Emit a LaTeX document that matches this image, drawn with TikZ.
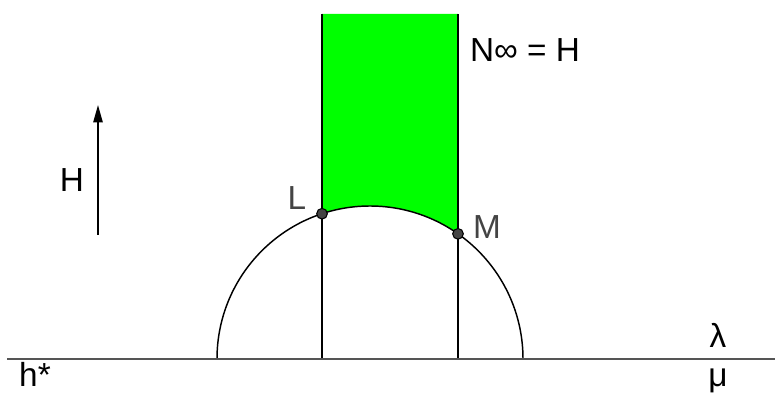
\documentclass[tikz,border=0pt]{standalone}
\usepackage{fontspec}
\setmainfont{Liberation Sans}
\usepackage{tikz}
\usetikzlibrary{arrows.meta,calc}
\definecolor{BandGreen}{HTML}{00FF00}
\definecolor{AxisGrey}{HTML}{555555}
\definecolor{PtGrey}{HTML}{444444}
\tikzset{
  % Text label
  lbl/.style={font=\fontsize{25}{29}\selectfont, color=#1, inner sep=1pt},
  lbl/.default=black,
  % Thin black line
  ln/.style={line width=1.1pt, color=black},
  % Marked point on the arc
  pt/.style={circle, draw=black, fill=PtGrey, line width=0.8pt,
    minimum size=8pt, inner sep=0pt},
  % Arrow
  arr/.style={-{Triangle[length=13pt,width=7pt]}, line width=1.1pt}
}
\begin{document}
\begin{tikzpicture}[x=0.75pt,y=0.75pt]
  \useasboundingbox (0,0) rectangle (775,396);
  % points where the strip meets the half circle
  \coordinate (O) at (370,37);
  \coordinate (L) at ($(O)+(108.28:153)$);
  \coordinate (M) at ($(O)+(54.89:153)$);
  \coordinate (Ltop) at (322,382);
  \coordinate (Mtop) at (458,382);
  \coordinate (Lbot) at (322,37);
  \coordinate (Mbot) at (458,37);
  \coordinate (A) at (217,37);
  \coordinate (B) at (7,37);
  \coordinate (C) at (775,37);

  % green strip
  \fill[BandGreen] (Ltop) -- (L) arc[start angle=108.28, end angle=54.89, radius=153] -- (Mtop) -- cycle;

  % half circle and verticals
  \draw[ln] (A) arc[start angle=180, end angle=0, radius=153];
  \draw[ln] (Lbot) -- (Ltop);
  \draw[ln] (Mbot) -- (Mtop);
  \draw[line width=2.2pt, AxisGrey] (B) -- (C);

  \node[pt] (pL) at (L) {};
  \node[pt] (pM) at (M) {};

  % H arrow
  \coordinate (h0) at (98,161);
  \coordinate (h1) at (98,291);
  \draw[arr] (h0) -- (h1);

  % labels
  \node[lbl] (tH)   at (72,216)  {H};
  \node[lbl=PtGrey] (tL) at (297,198) {L};
  \node[lbl=PtGrey] (tM) at (487,169) {M};
  \node[lbl] (tN)   at (525,346) {N∞ = H};
  \node[lbl] (tlam) at (718,61)  {λ};
  \node[lbl] (tmu)  at (718,15)  {μ};
  \node[lbl, anchor=base] (th) at (35,9) {h*};
\end{tikzpicture}
\end{document}
